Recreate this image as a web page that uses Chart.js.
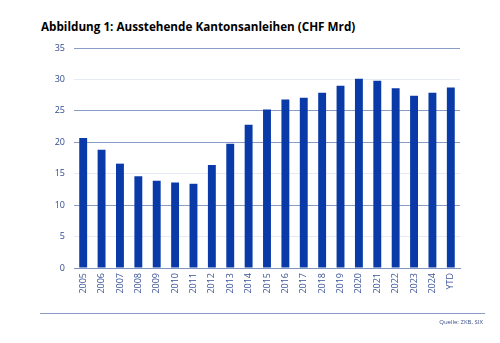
<!DOCTYPE html>
<html>
<head>
<meta charset="utf-8">
<script src="https://cdn.jsdelivr.net/npm/chart.js@4"></script>
<style>
html,body{margin:0;padding:0;background:#fff;}
#wrap{position:relative;width:500px;height:343px;overflow:hidden;}
#title{position:absolute;left:41px;top:18px;font-family:"Open Sans",sans-serif;font-weight:bold;font-size:11.7px;color:#000;white-space:nowrap;}
#rule{position:absolute;left:40px;top:313px;width:445px;height:1px;background:#8a9cc4;}
#src{position:absolute;right:17px;top:318px;font-family:"Open Sans",sans-serif;font-size:6px;color:#3a4f8a;}
canvas{position:absolute;left:0;top:0;}
</style>
</head>
<body>
<div id="wrap">
<div id="title">Abbildung 1: Ausstehende Kantonsanleihen (CHF Mrd)</div>
<canvas id="c" width="500" height="343"></canvas>
<div id="rule"></div>
<div id="src">Quelle: ZKB, SIX</div>
</div>
<script>
const categories = ["2005","2006","2007","2008","2009","2010","2011","2012","2013","2014","2015","2016","2017","2018","2019","2020","2021","2022","2023","2024","YTD"];
const outstanding = [20.7,18.8,16.6,14.6,13.9,13.6,13.4,16.4,19.75,22.8,25.2,26.8,27.1,27.9,29.0,30.1,29.8,28.6,27.4,27.9,28.7];
const yTicks = [0,5,10,15,20,25,30,35];

new Chart(document.getElementById('c'), {
  type: 'bar',
  data: {
    labels: categories,
    datasets: [{
      data: outstanding,
      backgroundColor: '#0a3aa8',
      barPercentage: 0.86,
      categoryPercentage: 0.5
    }]
  },
  options: {
    responsive: false,
    animation: false,
    devicePixelRatio: 1,
    layout: { padding: { top: 48, right: 40, left: 0, bottom: 0 } },
    plugins: { legend: { display: false }, tooltip: { enabled: false }, title: { display: false } },
    scales: {
      x: {
        grid: { display: false, drawTicks: false },
        border: { display: true, color: '#7f93c0', width: 1 },
        ticks: {
          minRotation: 90, maxRotation: 90, autoSkip: false, padding: 5,
          color: '#3a5396', font: { family: '"Open Sans", sans-serif', size: 9 }
        },
        afterFit: s => { s.height = 75; }
      },
      y: {
        min: 0, max: 35,
        afterBuildTicks: s => { s.ticks = yTicks.map(v => ({ value: v })); },
        grid: {
          drawTicks: false,
          color: ctx => ([30,15,5].includes(ctx.tick && ctx.tick.value) ? '#e6eaf4' : '#8a9cc8'),
          lineWidth: 1
        },
        border: { display: false },
        ticks: {
          padding: 9,
          color: '#2f4a8f', font: { family: '"Open Sans", sans-serif', size: 9 }
        },
        afterFit: s => { s.width = 74; }
      }
    }
  }
});
</script>
</body>
</html>
